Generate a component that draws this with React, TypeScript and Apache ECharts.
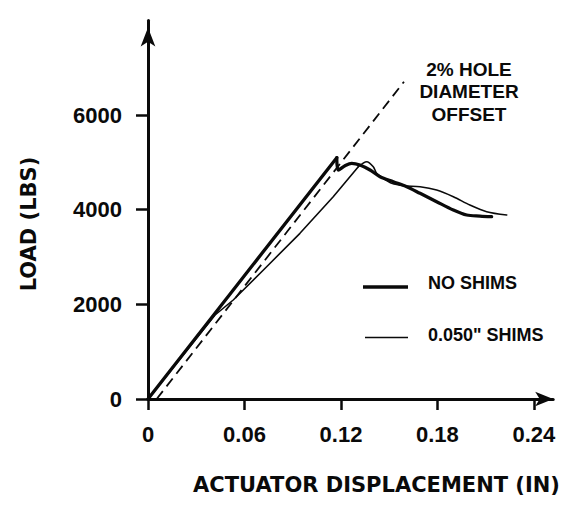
import React, { useEffect, useRef } from "react";
import * as echarts from "echarts";

// NO SHIMS (thick) — [displacement in, load lbs]
const noShimsX = [0, 0.1174, 0.1183, 0.1225, 0.1267, 0.1318, 0.1381, 0.1443, 0.1526, 0.1609, 0.1692, 0.1795, 0.1899, 0.1982, 0.2065, 0.2137];
const noShimsY = [0, 5100, 4838, 4929, 4980, 4944, 4838, 4697, 4591, 4486, 4346, 4169, 3993, 3888, 3866, 3852];
const noShimsRiseCount = 2; // points on the straight loading part

// 0.050" SHIMS (thin)
const shimsX = [0, 0.0417, 0.053, 0.0738, 0.0945, 0.1152, 0.1308, 0.136, 0.1401, 0.1422, 0.1463, 0.1516, 0.1588, 0.1692, 0.1795, 0.1899, 0.2002, 0.2106, 0.2231];
const shimsY = [0, 1775, 2092, 2795, 3501, 4274, 4908, 5014, 4908, 4769, 4663, 4557, 4507, 4486, 4416, 4274, 4099, 3958, 3888];
const shimsRiseCount = 7;

// 2% hole diameter offset line
const offsetX = [0.0054, 0.1592];
const offsetY = [0, 6704];

const xTicks = [0, 0.06, 0.12, 0.18, 0.24];
const yTicks = [0, 2000, 4000, 6000];

const seriesNames = ["NO SHIMS", '0.050" SHIMS'];
const xTitle = "ACTUATOR DISPLACEMENT (IN)";
const yTitle = "LOAD (LBS)";
const note = "2% HOLE\nDIAMETER\nOFFSET";

const zip = (xs: number[], ys: number[]) => xs.map((x, i) => [x, ys[i]]);

export default function App() {
  const ref = useRef<HTMLDivElement>(null);
  useEffect(() => {
    if (!ref.current) return;
    const chart = echarts.init(ref.current, undefined, { renderer: "svg" });
    const font = "Liberation Sans";
    const ink = "#0a0a0a";
    const thick = zip(noShimsX, noShimsY);
    const thin = zip(shimsX, shimsY);
    const thickStyle = { color: ink, width: 3.3, cap: "round", join: "round" };
    const thinStyle = { color: ink, width: 1.6, cap: "round", join: "round" };
    chart.setOption({
      animation: false,
      backgroundColor: "#ffffff",
      grid: { left: 148, top: 20.4, right: 22.8, bottom: 508 - 399 },
      xAxis: {
        type: "value",
        min: 0,
        max: 0.252,
        interval: 0.06,
        splitLine: { show: false },
        axisLine: {
          show: true,
          onZero: false,
          lineStyle: { color: ink, width: 3 },
          symbol: ["none", "arrow"],
          symbolSize: [11, 18],
          symbolOffset: [0, 0],
        },
        axisTick: { show: true, customValues: xTicks, length: 11, inside: false, lineStyle: { color: ink, width: 2.5 } },
        axisLabel: {
          customValues: xTicks,
          margin: 24,
          color: ink,
          fontFamily: font,
          fontWeight: "bold",
          fontSize: 22,
          formatter: (v: number) => (v === 0 ? "0" : v.toFixed(2)),
        },
      },
      yAxis: {
        type: "value",
        min: 0,
        max: 8000,
        interval: 2000,
        splitLine: { show: false },
        axisLine: {
          show: true,
          onZero: false,
          lineStyle: { color: ink, width: 3 },
          symbol: ["none", "arrow"],
          symbolSize: [11, 19],
          symbolOffset: [0, -7],
        },
        axisTick: { show: true, customValues: yTicks, length: 12, inside: false, lineStyle: { color: ink, width: 2.5 } },
        axisLabel: {
          customValues: yTicks,
          margin: 26,
          color: ink,
          fontFamily: font,
          fontWeight: "bold",
          fontSize: 22,
          formatter: (v: number) => String(Math.round(v)),
        },
      },
      series: [
        {
          name: seriesNames[0],
          type: "line",
          data: thick.slice(0, noShimsRiseCount),
          symbol: "none",
          lineStyle: thickStyle,
          z: 3,
        },
        {
          name: seriesNames[0],
          type: "line",
          data: thick.slice(noShimsRiseCount - 1),
          symbol: "none",
          smooth: 0.3,
          lineStyle: thickStyle,
          z: 3,
        },
        {
          name: seriesNames[1],
          type: "line",
          data: thin.slice(0, shimsRiseCount),
          symbol: "none",
          lineStyle: thinStyle,
          z: 3,
        },
        {
          name: seriesNames[1],
          type: "line",
          data: thin.slice(shimsRiseCount - 1),
          symbol: "none",
          smooth: 0.3,
          lineStyle: thinStyle,
          z: 3,
        },
        {
          name: "offset",
          type: "line",
          data: zip(offsetX, offsetY),
          symbol: "none",
          lineStyle: { color: ink, width: 1.8, type: [10, 6] },
          z: 2,
        },
      ],
      graphic: [
        {
          type: "text",
          x: 376.5,
          y: 484.5,
          style: {
            text: xTitle,
            fill: ink,
            font: "bold 21px 'DejaVu Sans'",
            textAlign: "center",
            textVerticalAlign: "middle",
          },
        },
        {
          type: "text",
          x: 28.5,
          y: 224,
          rotation: Math.PI / 2,
          style: {
            text: yTitle,
            fill: ink,
            font: "bold 21px 'DejaVu Sans'",
            textAlign: "center",
            textVerticalAlign: "middle",
          },
        },
        {
          type: "text",
          x: 469,
          y: 58,
          style: {
            text: note,
            fill: ink,
            font: "bold 19px 'Liberation Sans'",
            lineHeight: 22.5,
            textAlign: "center",
            textVerticalAlign: "top",
          },
        },
        {
          type: "line",
          shape: { x1: 363, y1: 287, x2: 408, y2: 287 },
          style: { stroke: ink, lineWidth: 3.3 },
        },
        {
          type: "line",
          shape: { x1: 365, y1: 337.5, x2: 408, y2: 337.5 },
          style: { stroke: ink, lineWidth: 1.5 },
        },
        {
          type: "text",
          x: 428,
          y: 283,
          style: {
            text: seriesNames[0],
            fill: ink,
            font: "bold 18px 'Liberation Sans'",
            textAlign: "left",
            textVerticalAlign: "middle",
          },
        },
        {
          type: "text",
          x: 428,
          y: 335,
          style: {
            text: seriesNames[1],
            fill: ink,
            font: "bold 18px 'Liberation Sans'",
            textAlign: "left",
            textVerticalAlign: "middle",
          },
        },
      ],
    });
    return () => chart.dispose();
  }, []);
  return <div ref={ref} style={{ position: "fixed", left: 0, top: 0, width: 576, height: 508 }} />;
}
